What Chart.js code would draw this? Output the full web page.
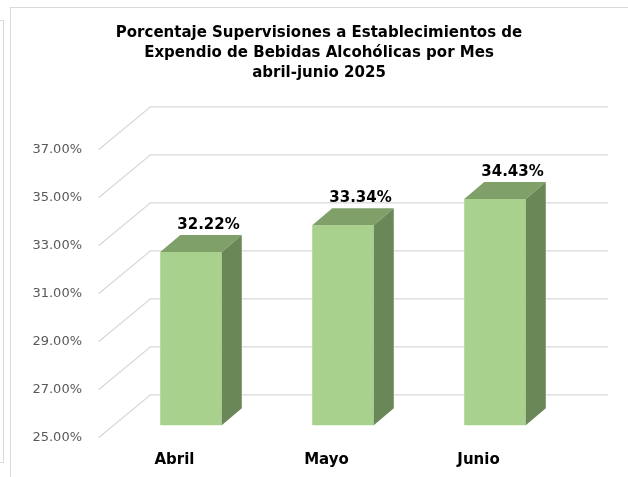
<!DOCTYPE html>
<html>
<head>
<meta charset="utf-8">
<script src="https://cdn.jsdelivr.net/npm/chart.js@4"></script>
<style>
  html, body { margin: 0; padding: 0; background: #fff; }
  .stage { position: relative; width: 628px; height: 477px; overflow: hidden; }
  .prev-box { position: absolute; left: -10px; top: 20px; width: 12px; height: 441px; border: 1.5px solid #d9d9d9; }
  .chart-box { position: absolute; left: 10px; top: 7px; width: 700px; height: 600px; border-left: 1.5px solid #d9d9d9; border-top: 1.5px solid #d9d9d9; }
  canvas { position: absolute; left: 0; top: 0; }
</style>
</head>
<body>
<div class="stage">
  <div class="prev-box"></div>
  <div class="chart-box"></div>
  <canvas id="supChart" width="628" height="477"></canvas>
</div>
<script>
  // ---------- data ----------
  const titleLines = ["Porcentaje Supervisiones a Establecimientos de", "Expendio de Bebidas Alcohólicas por Mes", "abril-junio 2025"];
  const months = ["Abril", "Mayo", "Junio"];
  const percentages = [32.22, 33.34, 34.43];
  const yMin = 25, yMax = 37, yStep = 2;

  // ---------- 3d look ----------
  const FRONT = { dx: -16.5, dy: 12.5 };  // label plane, relative to bar plane
  const BACK = { dx: 35.5, dy: -30.5 };   // back wall, relative to bar plane
  const DEPTH = { dx: 20, dy: -17 };      // bar thickness
  const GRID = "#d9d9d9";

  const fakeThreeD = {
    id: "fakeThreeD",
    beforeDatasetsDraw(chart) {
      const { ctx, chartArea: a, scales: { y } } = chart;
      ctx.save();
      ctx.strokeStyle = GRID;
      ctx.lineWidth = 1.3;
      for (let v = yMin; v <= yMax; v += yStep) {
        const py = y.getPixelForValue(v);
        ctx.beginPath();
        ctx.moveTo(a.left + FRONT.dx, py + FRONT.dy);
        ctx.lineTo(a.left + BACK.dx, py + BACK.dy);
        ctx.lineTo(a.right + BACK.dx + 1.5, py + BACK.dy);
        ctx.stroke();
      }
      ctx.restore();
    },
    afterDatasetsDraw(chart) {
      const { ctx, scales: { y } } = chart;
      const meta = chart.getDatasetMeta(0);
      const base = y.getPixelForValue(yMin); // bars start at the axis floor
      ctx.save();
      meta.data.forEach((bar, i) => {
        const l = bar.x - bar.width / 2, r = bar.x + bar.width / 2;
        const top = bar.y;
        // top face
        ctx.fillStyle = "#80a06a";
        ctx.beginPath();
        ctx.moveTo(l, top);
        ctx.lineTo(r, top);
        ctx.lineTo(r + DEPTH.dx, top + DEPTH.dy);
        ctx.lineTo(l + DEPTH.dx, top + DEPTH.dy);
        ctx.closePath();
        ctx.fill();
        // side face
        ctx.fillStyle = "#6a8758";
        ctx.beginPath();
        ctx.moveTo(r, top);
        ctx.lineTo(r + DEPTH.dx, top + DEPTH.dy);
        ctx.lineTo(r + DEPTH.dx, base + DEPTH.dy);
        ctx.lineTo(r, base);
        ctx.closePath();
        ctx.fill();
        // value label
        ctx.fillStyle = "#000";
        ctx.font = "bold 15px 'DejaVu Sans'";
        ctx.textAlign = "center";
        ctx.textBaseline = "middle";
        ctx.fillText(percentages[i].toFixed(2) + "%", bar.x + 17.5, top - 27);
      });
      ctx.restore();
    },
  };

  new Chart(document.getElementById("supChart"), {
    type: "bar",
    data: {
      labels: months,
      datasets: [{
        data: percentages,
        backgroundColor: "#a9d18e",
        borderWidth: 0,
        barPercentage: 1,
        categoryPercentage: 0.405,
      }],
    },
    options: {
      responsive: false,
      animation: false,
      layout: { padding: { left: 10, right: 0, top: 0, bottom: 0 } },
      plugins: {
        legend: { display: false },
        tooltip: { enabled: false },
        title: {
          display: true,
          text: titleLines,
          color: "#000",
          font: { family: "'DejaVu Sans'", size: 15, weight: "bold", lineHeight: 20 / 15 },
          padding: { top: 23, bottom: 54.3 },
        },
      },
      scales: {
        x: {
          grid: { display: false, drawTicks: false },
          border: { display: false },
          ticks: { color: "#000", font: { family: "'DejaVu Sans'", size: 15, weight: "bold" }, padding: 26, labelOffset: FRONT.dx, maxRotation: 0 },
          afterFit: (s) => { s.height = 51.7; },
        },
        y: {
          min: yMin, max: yMax,
          grid: { display: false, drawTicks: false },
          border: { display: false },
          ticks: { stepSize: yStep, color: "#595959", font: { family: "'DejaVu Sans'", size: 13 }, padding: 33, labelOffset: FRONT.dy, callback: (v) => v.toFixed(2) + "%" },
          afterFit: (s) => { s.width = 105; },
        },
        yRight: {
          position: "right",
          min: yMin, max: yMax,
          grid: { display: false, drawTicks: false },
          border: { display: false },
          ticks: { display: false },
          afterFit: (s) => { s.width = 57; },
        },
      },
    },
    plugins: [fakeThreeD],
  });
</script>
</body>
</html>
